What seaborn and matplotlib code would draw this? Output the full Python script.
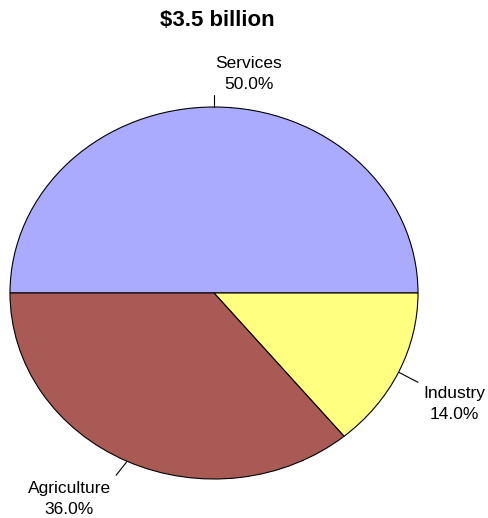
import matplotlib
matplotlib.use("Agg")
import matplotlib.pyplot as plt
import seaborn as sns

# Sector shares of GDP
sectors = ["Services", "Industry", "Agriculture"]
shares = [50.0, 14.0, 36.0]
sector_colors = ["#AAAAFF", "#FFFF80", "#AA5A55"]
title_text = "\\$3.5 billion"

sns.set_style("white")
plt.rcParams["font.family"] = ["Liberation Sans", "DejaVu Sans"]
plt.rcParams["text.color"] = "black"

fig = plt.figure(figsize=(4.88, 5.18), dpi=100)
ax = fig.add_axes([10 / 488, 39 / 518, 408 / 488, 372 / 518])

wedges, _ = ax.pie(
    shares,
    colors=sns.color_palette(sector_colors),
    startangle=180,
    counterclock=False,
    radius=1.0,
    wedgeprops=dict(edgecolor="black", linewidth=0.8),
)
ax.set_aspect("auto")
ax.set_xlim(-1, 1)
ax.set_ylim(-1, 1)
ax.axis("off")

# Leader lines and labels placed around the ellipse
label_pos = {
    "Services": ((0.0, 1.0), (0.0, 1.065), (0.17, 1.18)),
    "Industry": ((0.905, -0.426), (1.0, -0.48), (1.176, -0.597)),
    "Agriculture": ((-0.426, -0.905), (-0.48, -0.98), (-0.71, -1.108)),
}
for name, val in zip(sectors, shares):
    p0, p1, pt = label_pos[name]
    ax.plot([p0[0], p1[0]], [p0[1], p1[1]], color="black", linewidth=0.8,
            clip_on=False)
    ax.text(pt[0], pt[1], f"{name}\n{val:.1f}%", ha="center", va="center",
            fontsize=12.5, linespacing=1.5, color="black", clip_on=False)

fig.text(217 / 488, 1 - 20 / 518, title_text, ha="center", va="center",
         fontsize=16, fontweight="bold", color="black")

fig.savefig("out.png", dpi=100, facecolor="white")
